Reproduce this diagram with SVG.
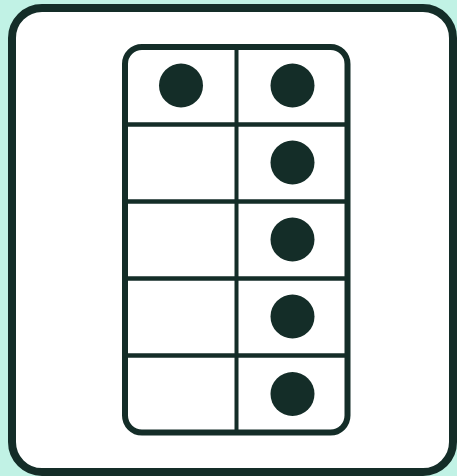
<svg xmlns="http://www.w3.org/2000/svg" width="457" height="476" viewBox="0 0 457 476">
<style>
.ln{stroke:#142d28;fill:none}
.box{stroke:#142d28;fill:#ffffff}
.dot{fill:#142d28}
</style>
<rect x="0" y="0" width="457" height="476" fill="#c1f2e5"/>
<g id="card">
<rect x="12" y="8" width="441" height="464" rx="30" ry="30" class="box" stroke-width="8"/>
</g>
<g id="frame">
<rect x="125" y="47" width="222.5" height="385.5" rx="17" ry="17" class="box" stroke-width="6"/>
</g>
<g id="connectors">
<line class="ln" stroke-width="4" x1="236.5" y1="47" x2="236.5" y2="432.5"/>
<line class="ln" stroke-width="4.5" x1="125" y1="124.5" x2="347.5" y2="124.5"/>
<line class="ln" stroke-width="4.5" x1="125" y1="201.5" x2="347.5" y2="201.5"/>
<line class="ln" stroke-width="4.5" x1="125" y1="278.5" x2="347.5" y2="278.5"/>
<line class="ln" stroke-width="4.5" x1="125" y1="355.5" x2="347.5" y2="355.5"/>
</g>
<g id="dots">
<circle class="dot" cx="181" cy="85.5" r="22"/>
<circle class="dot" cx="292.5" cy="85.5" r="22"/>
<circle class="dot" cx="292.5" cy="162.5" r="22"/>
<circle class="dot" cx="292.5" cy="239.5" r="22"/>
<circle class="dot" cx="292.5" cy="316.5" r="22"/>
<circle class="dot" cx="292.5" cy="394" r="22"/>
</g>
</svg>
